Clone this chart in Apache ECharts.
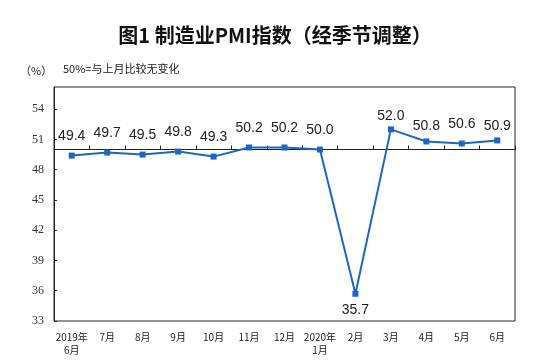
<!DOCTYPE html>
<html><head><meta charset="utf-8">
<script src="https://cdn.jsdelivr.net/npm/echarts@6/dist/echarts.min.js"></script>
<style>html,body{margin:0;padding:0;background:#fff}#c{width:550px;height:364px}</style>
</head><body><div id="c"></div>
<script>
var categories = ['2019年\n6月','7月','8月','9月','10月','11月','12月','2020年\n1月','2月','3月','4月','5月','6月'];
var pmiValues = [49.4, 49.7, 49.5, 49.8, 49.3, 50.2, 50.2, 50.0, 35.7, 52.0, 50.8, 50.6, 50.9];
var yTicks = [33, 36, 39, 42, 45, 48, 51, 54];
var titleText = '图1 制造业PMI指数（经季节调整）';
var unitText = '（%）';
var noteText = '50%=与上月比较无变化';
var baseline = 50;

var yMin = 33, yMax = 56.2;
var chart = echarts.init(document.getElementById('c'), null, {renderer:'canvas'});
var labelDist = {8: 6, 9: 3, 10: 5, 12: 4};
var seriesData = pmiValues.map(function(v, i){
  var below = i === 8;
  return {value: v, label: {position: below ? 'bottom' : 'top', distance: labelDist[i] !== undefined ? labelDist[i] : 9}};
});
chart.setOption({
  animation: false,
  title: {text: titleText, left: 'center', top: 20,
    textStyle: {fontFamily: 'Noto Sans CJK SC', fontSize: 20, fontWeight: 'bold', color: '#111'}},
  graphic: [
    {type:'text', left: 20, top: 65, style:{text: unitText, fontFamily:'Noto Sans CJK SC', fontSize: 11, fill:'#222'}},
    {type:'text', left: 63, top: 63, style:{text: noteText, fontFamily:'Noto Sans CJK SC', fontSize: 11, fill:'#222'}}
  ],
  grid: {left: 54, right: 35, top: 87, bottom: 43, show: true, borderColor: '#222', borderWidth: 1},
  xAxis: [
    {type:'category', data: categories, position:'top', boundaryGap: true,
      axisLine:{show:true, onZero:true, onZeroAxisIndex:1, lineStyle:{color:'#222', width:1}},
      axisTick:{show:true, inside:false, length:4, interval:0, lineStyle:{color:'#222'}},
      axisLabel:{show:false}, splitLine:{show:false}},
    {type:'category', data: categories, position:'bottom', boundaryGap: true,
      axisLine:{show:false}, axisTick:{show:false},
      axisLabel:{show:true, interval:0, margin: 10, fontFamily:'Noto Sans CJK SC', fontSize:10, color:'#222', lineHeight: 13}}
  ],
  yAxis: [
    {type:'value', min: yMin, max: yMax, interval: 3,
      axisLine:{show:true, lineStyle:{color:'#222'}},
      axisTick:{show:true, inside:true, length:3, lineStyle:{color:'#222'}},
      axisLabel:{showMaxLabel:false, margin: 10, fontFamily:'Liberation Serif', fontSize:12, color:'#333',
        formatter: function(v){ return yTicks.indexOf(v) >= 0 ? String(v) : ''; }},
      splitLine:{show:false}},
    {type:'value', min: yMin - baseline, max: yMax - baseline, show: false}
  ],
  series: [{
    type:'line', xAxisIndex: 1, yAxisIndex: 0, data: seriesData,
    symbol:'rect', symbolSize: 6, showAllSymbol: true,
    lineStyle:{color:'#1d67c2', width:2}, itemStyle:{color:'#1d67c2'},
    label:{show:true, fontFamily:'Liberation Sans', fontSize:14, color:'#222',
      formatter: function(p){ return p.value.toFixed(1); }}
  }]
});
</script></body></html>
